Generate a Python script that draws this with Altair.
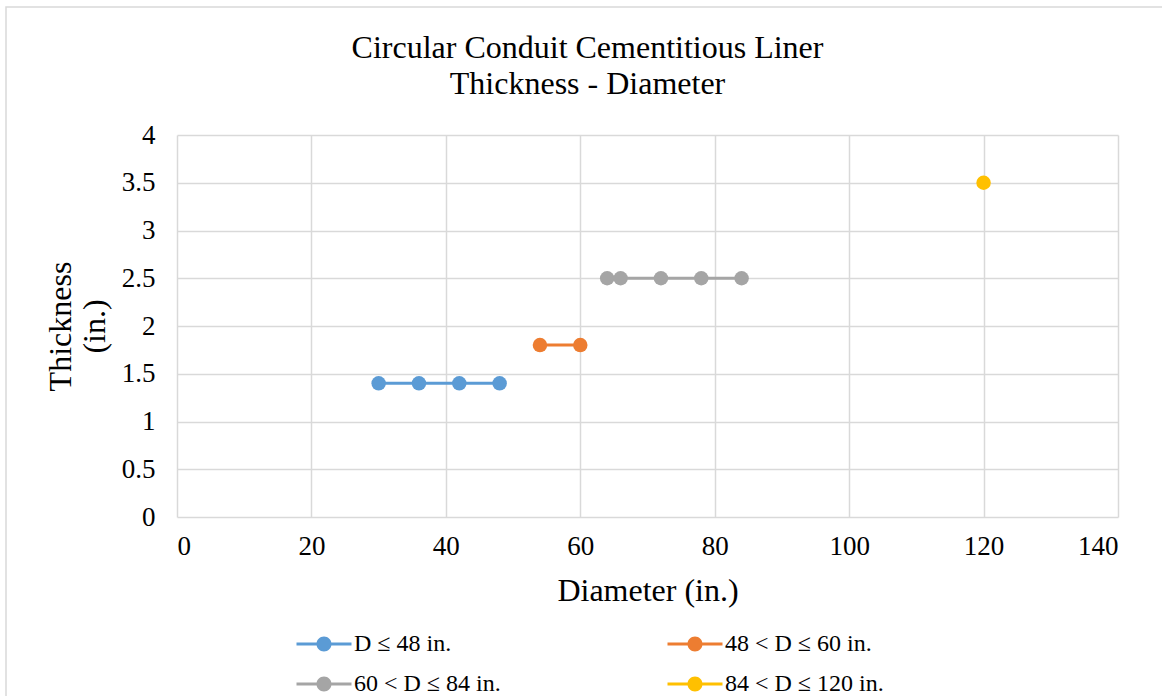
import altair as alt
import pandas as pd

FONT = "Liberation Serif"

series_names = ["D ≤ 48 in.", "48 < D ≤ 60 in.", "60 < D ≤ 84 in.", "84 < D ≤ 120 in."]
series_colors = ["#5B9BD5", "#ED7D31", "#A5A5A5", "#FFC000"]

diam_s1 = [30, 36, 42, 48]
thick_s1 = [1.4, 1.4, 1.4, 1.4]
diam_s2 = [54, 60]
thick_s2 = [1.8, 1.8]
diam_s3 = [64, 66, 72, 78, 84]
thick_s3 = [2.5, 2.5, 2.5, 2.5, 2.5]
diam_s4 = [120]
thick_s4 = [3.5]

x_ticks = [0, 20, 40, 60, 80, 100, 120, 140]
y_ticks = [0, 0.5, 1, 1.5, 2, 2.5, 3, 3.5, 4]

rows = []
for name, xs, ys in zip(series_names,
                        [diam_s1, diam_s2, diam_s3, diam_s4],
                        [thick_s1, thick_s2, thick_s3, thick_s4]):
    for xv, yv in zip(xs, ys):
        rows.append({"series": name, "diameter": xv, "thickness": yv})
df = pd.DataFrame(rows)

legend_path = ("M-2.75,-0.15H2.75V0.15H-2.75Z "
               "M-0.75,0A0.75,0.75 0 1,1 0.75,0A0.75,0.75 0 1,1 -0.75,0Z")

x_enc = alt.X("diameter:Q",
              scale=alt.Scale(domain=[0, 140], nice=False, zero=True),
              axis=alt.Axis(values=x_ticks, title="Diameter (in.)", format="d",
                            titlePadding=16, labelPadding=16))
y_enc = alt.Y("thickness:Q",
              scale=alt.Scale(domain=[0, 4], nice=False),
              axis=alt.Axis(values=y_ticks, title=["Thickness", "(in.)"], format="~g",
                            titlePadding=10, labelPadding=22))

color_scale = alt.Scale(domain=series_names, range=series_colors)

color_legend = alt.Legend(
    title=None, orient="none", legendX=118, legendY=497, columns=2,
    direction="horizontal",
    symbolType=legend_path, symbolSize=400, symbolStrokeWidth=0,
    symbolOffset=17, labelOffset=18, columnPadding=165, rowPadding=16,
    labelFont=FONT, labelFontSize=24, labelColor="#000000", padding=0,
)

base = alt.Chart(df)

points = base.mark_point(filled=True, size=210, opacity=1).encode(
    x=x_enc, y=y_enc,
    color=alt.Color("series:N", scale=color_scale, legend=color_legend),
)

lines = base.mark_line(strokeWidth=3).encode(
    x=x_enc, y=y_enc,
    color=alt.Color("series:N", scale=color_scale, legend=color_legend),
    detail="series:N",
)

frame = alt.Chart(pd.DataFrame({"k": [0]})).mark_rect(
    fill="transparent", stroke="#d9d9d9", strokeWidth=1.5
).encode(x=alt.value(-171), x2=alt.value(1000), y=alt.value(-128), y2=alt.value(600))

chart = alt.layer(frame, lines, points).properties(
    width=941, height=382,
    padding={"left": 177, "top": 135, "right": 44, "bottom": 179},
    autosize=alt.AutoSizeParams(type="none"),
    background="white",
    title=alt.TitleParams(
        ["Circular Conduit Cementitious Liner", "Thickness - Diameter"],
        font=FONT, fontSize=32, fontWeight="normal", color="#000000",
        anchor="middle", dx=-60, offset=0, dy=95, lineHeight=36,
    ),
).configure_view(stroke=None).configure_axis(
    labelFont=FONT, labelFontSize=27, labelColor="#000000",
    titleFont=FONT, titleFontSize=32, titleFontWeight="normal", titleColor="#000000",
    gridColor="#d9d9d9", gridWidth=1.5, domain=False, ticks=False,
)

chart.save("out.html", embed_options={"renderer": "svg", "actions": False})
